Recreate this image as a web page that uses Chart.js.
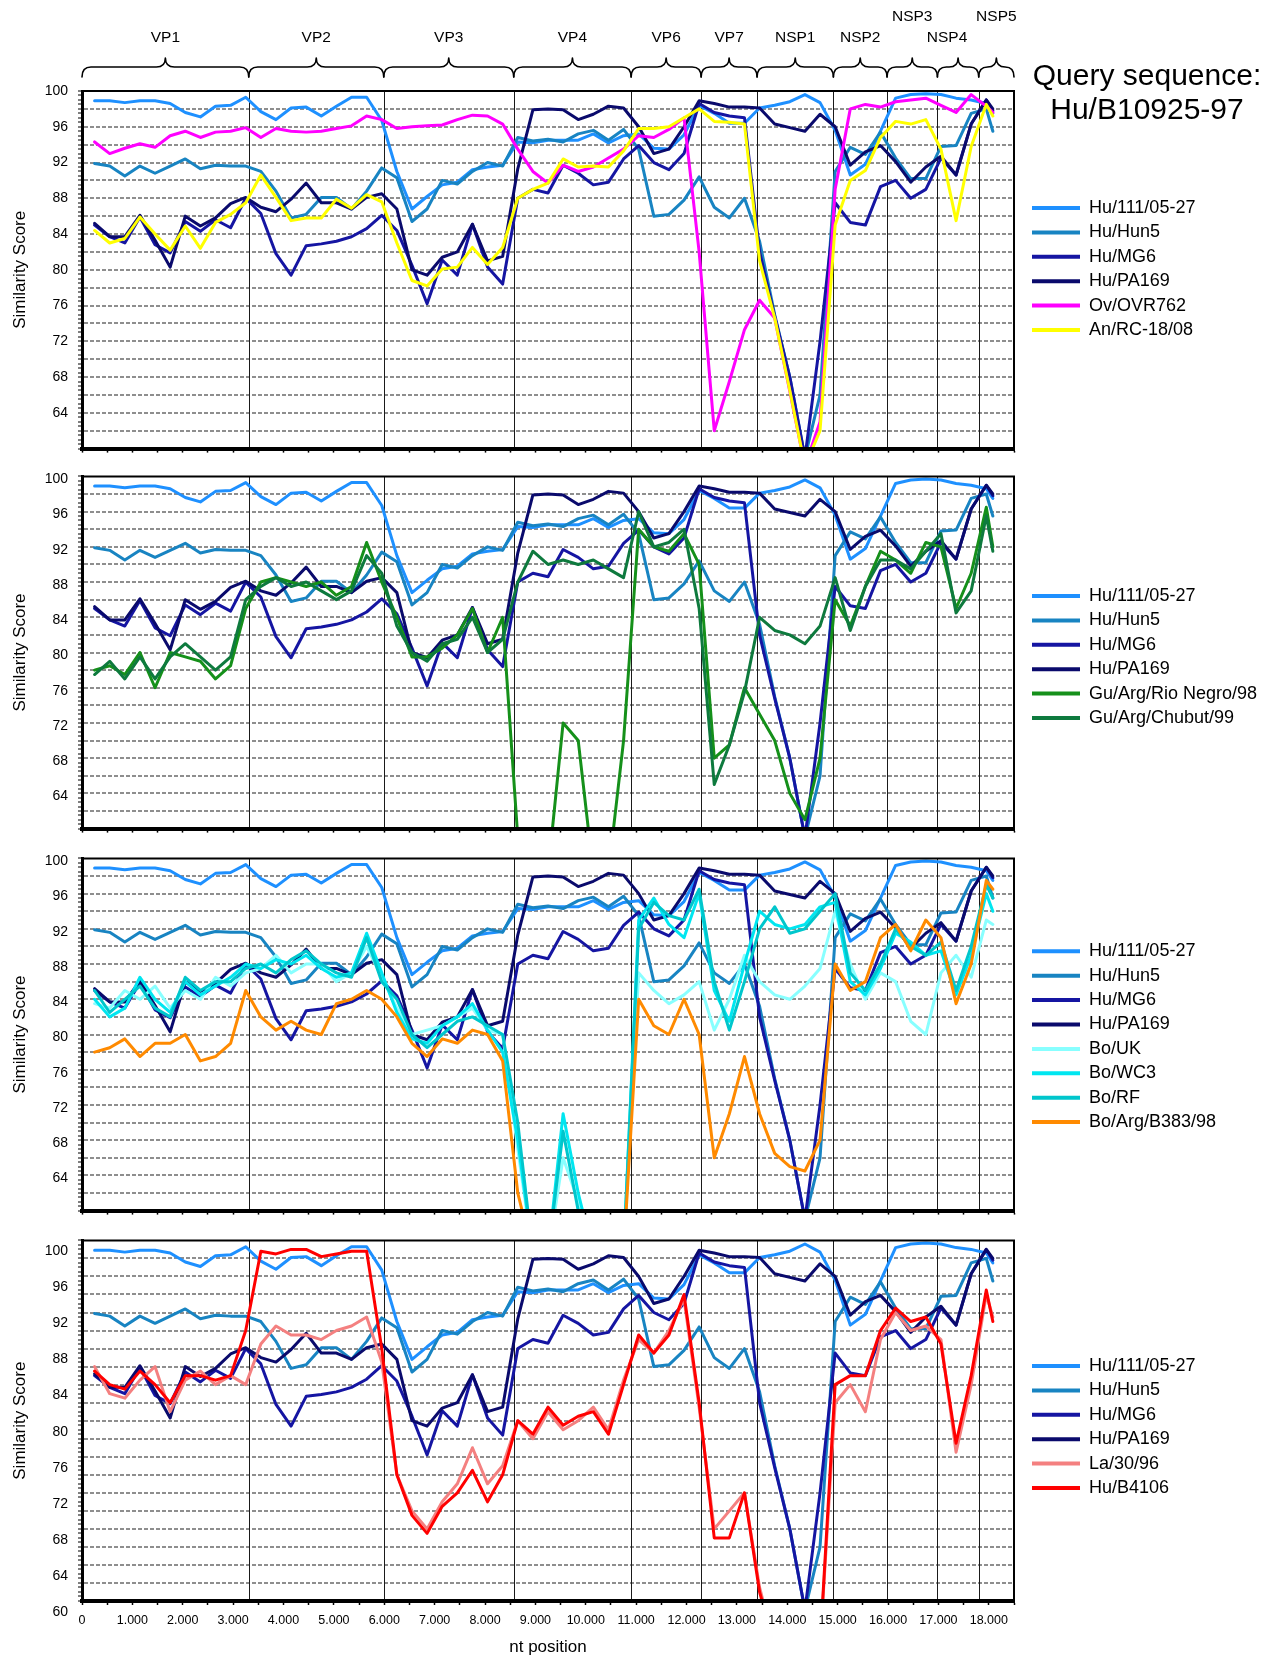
<!DOCTYPE html>
<html>
<head>
<meta charset="utf-8">
<script src="https://cdn.jsdelivr.net/npm/chart.js@4.4.1/dist/chart.umd.min.js"></script>
<style>
html,body{margin:0;padding:0;background:#fff;}
#wrap{position:relative;width:1272px;height:1659px;overflow:hidden;background:#fff;font-family:"Liberation Sans",Arial,sans-serif;}
#wrap canvas{position:absolute;left:0;}
#query{position:absolute;left:1012px;top:58px;width:270px;text-align:center;font-size:30px;line-height:34px;color:#000;}
</style>
</head>
<body>
<div id="wrap">
  <canvas id="c1" width="1272" height="467" style="top:0px"></canvas>
  <canvas id="c2" width="1272" height="389" style="top:458px"></canvas>
  <canvas id="c3" width="1272" height="389" style="top:840px"></canvas>
  <canvas id="c4" width="1272" height="437" style="top:1222px"></canvas>
  <div id="query">Query sequence:<br>Hu/B10925-97</div>
</div>
<script>
// ---------------- DATA ----------------
const positions = [250,550,850,1150,1450,1750,2050,2350,2650,2950,
  3250,3550,3850,4150,4450,4750,5050,5350,5650,5950,
  6250,6550,6850,7150,7450,7750,8050,8350,8650,8950,
  9250,9550,9850,10150,10450,10750,11050,11350,11650,11950,
  12250,12550,12850,13150,13450,13750,14050,14350,14650,14950,
  15250,15550,15850,16150,16450,16750,17050,17350,17650,17950,18080];

const geneNames = ['VP1','VP2','VP3','VP4','VP6','VP7','NSP1','NSP2','NSP3','NSP4','NSP5'];
const geneBounds = [0,3310,5990,8570,10900,12290,13400,14915,15980,16980,17800,18500];

const xMax = 18500;
const xTickStep = 500;
const yTickLabels = [100,96,92,88,84,80,76,72,68,64,60];

const hu111 = [98.9,98.9,98.7,98.9,98.9,98.6,97.6,97.1,98.3,98.4,
  99.3,97.7,96.8,98.1,98.2,97.2,98.3,99.3,99.3,96.7,
  91.0,86.8,88.2,89.5,89.8,91.2,91.5,91.7,94.3,94.2,
  94.5,94.5,94.5,95.2,94.2,95.0,95.2,93.6,93.5,95.1,
  98.4,97.5,96.4,96.4,98.1,98.4,98.8,99.6,98.7,95.6,
  90.6,91.8,95.5,99.2,99.6,99.7,99.6,99.2,99.0,98.6,97.5];

const huHun5 = [91.9,91.6,90.5,91.6,90.8,91.6,92.4,91.3,91.7,91.6,
  91.6,91.0,88.8,85.8,86.2,88.1,88.1,86.8,88.8,91.4,
  90.3,85.4,86.8,90.0,89.6,91.0,92.0,91.6,94.8,94.4,
  94.6,94.3,95.2,95.6,94.5,95.7,93.5,86.0,86.2,87.8,
  90.4,87.0,85.8,88.0,83.2,75.0,68.0,59.0,66.0,91.0,
  93.7,92.9,95.4,92.5,90.2,90.2,93.8,93.9,97.5,98.0,95.5];

const huMG6 = [85.0,83.7,83.0,85.9,82.8,81.9,85.4,84.3,85.6,84.7,
  88.0,86.3,81.8,79.4,82.7,82.9,83.2,83.7,84.6,86.1,
  84.4,80.5,76.2,81.1,79.4,85.1,80.3,78.4,88.0,89.0,
  88.6,91.7,90.8,89.5,89.8,92.4,93.9,92.0,91.2,93.0,
  98.6,97.6,97.2,97.0,82.0,74.8,68.0,59.0,72.0,87.5,
  85.3,85.0,89.3,90.0,88.0,89.0,92.5,90.6,96.3,99.0,97.8];

const huPA169 = [85.2,83.7,83.7,86.1,83.3,80.3,86.0,84.9,85.8,87.4,
  88.1,87.0,86.5,87.9,89.7,87.5,87.5,86.8,88.1,88.5,
  86.8,80.0,79.4,81.4,82.0,85.1,81.0,81.5,91.3,97.9,
  98.0,97.9,96.8,97.4,98.3,98.1,96.0,93.0,93.5,96.0,
  98.9,98.6,98.2,98.2,98.1,96.3,95.9,95.5,97.4,96.0,
  91.7,93.2,93.9,92.1,89.8,91.5,92.7,90.6,96.3,99.0,98.0];

const ovOVR762 = [94.3,93.0,93.6,94.1,93.7,95.0,95.5,94.8,95.4,95.5,
  95.9,94.8,95.8,95.5,95.4,95.5,95.8,96.1,97.2,96.8,
  95.8,96.0,96.1,96.2,96.8,97.3,97.2,96.3,93.5,91.0,
  89.7,91.7,91.0,91.5,92.5,93.5,95.0,94.8,95.7,97.0,
  82.0,62.0,67.5,73.3,76.6,74.6,66.4,58.0,63.0,89.0,
  98.0,98.5,98.2,98.8,99.0,99.2,98.4,97.6,99.6,98.3,97.6];

const anRC1808 = [84.4,83.0,83.5,85.9,84.0,82.2,84.9,82.4,85.3,86.2,
  87.5,90.6,88.1,85.5,85.8,85.8,87.9,86.9,88.4,87.6,
  83.0,78.8,78.2,80.1,80.3,82.5,80.6,82.5,88.0,89.0,
  89.7,92.4,91.5,91.6,91.5,93.3,95.8,95.8,96.0,97.0,
  98.0,96.6,96.5,96.3,81.0,74.6,66.5,58.0,62.0,85.0,
  90.0,91.1,94.8,96.6,96.3,96.8,93.5,85.5,93.8,98.5,97.2];

const guRioNegro = [78,78.5,77.5,80,76,80,79.5,79,77,78.5,
  85,88,88.5,88,87.5,88,86.5,87.5,92.5,88,
  84,79.5,79.5,80.5,82,85,80,84,59,55,
  55,72,70,55,55,70,94,92,91.5,93.5,
  90,68,69.5,76,73,70,64,61,68,86,
  83,87.5,91.5,90.5,89,92.5,92,85,89,96.5,92];

const guChubut = [77.5,79,77,79.5,77,79.5,81,79.5,78,79.5,
  86,87.5,88.5,87.5,88,87,86,87,91,89,
  83,80,79,81,81.5,84,80,81.5,88,91.5,
  90,90.5,90,90.5,89.5,88.5,96,92,92.5,94,
  85,65,69.5,75.5,84,82.5,82,81,83,88.5,
  82.5,87.5,90.5,90.5,89.5,91.5,93.5,84.5,87,95.5,91.5];

const boUK = [83.5,83,85,84,85.5,83,85,84,86.5,85.5,
  87,87.5,89,87,88,88,86,87,90,86.5,
  83,80,80.5,81,82,83,80.5,80,67,55,
  55,66,61,55,55,55,87,85,83.5,84.5,
  86,80.5,84,89,86,84.5,84,85.5,87.5,94,
  88,84,87,86,81.5,80,87,89,86.5,93,92.5];

const boWC3 = [84,82,83,86.5,84,82.5,86,84.5,85.5,86.5,
  88,87.5,88.5,88,89,87.5,86.5,87,91.5,87,
  82.5,79.5,79,81,82,83.5,80.5,78,68,55,
  55,71,62,55,55,55,93,95.5,92.5,91,
  96,85,81.5,88,94,92.5,92,92.5,94.5,95,
  86,84.5,87.5,91.5,90.5,89,89.5,84.5,89,96,94];

const boRF = [85,82.5,84,85.5,83,82,86.5,85,86,86,
  87.5,88,87,88.5,89.5,88,87,86.5,91,86,
  84,80,78.5,80,81.5,82,81,80,70,55,
  55,69,60,55,55,55,92,95,93.5,93,
  96.5,86,80.5,86,92,94.5,91.5,92,94,96,
  87,85,88,92,90,89,90.5,85,90,97,95.5];

const boB383 = [78,78.5,79.5,77.5,79,79,80,77,77.5,79,
  85,82,80.5,81.5,80.5,80,83.5,84,85,84,
  82,79,77.5,79.5,79,80.5,80,77,62,55,
  55,55,55,55,55,55,84,81,80,84,
  80,66,71,77.5,71,66.5,65,64.5,68,88,
  85,86,91,92.5,89.5,93,91,83.5,88,97.5,96.5];

const la3096 = [86,83,82.5,84.5,86,81,84.5,85.5,84,85,
  84,88.5,90.5,89.5,89.5,89,90,90.5,91.5,86.5,
  74,70,68,71,73,77,73,75,80,78,
  81,79,80,81.5,79,84.5,89,87.5,90,93.5,
  81.5,68,70,72,61.5,55,55,55,55,82,
  84,81,89,92,90,90.5,89,76.5,84,94,91.5];

const huB4106 = [85.5,84,83.5,85.5,84,82,85,85,84.5,85,
  90,98.8,98.5,99,99,98.2,98.5,98.8,98.8,88,
  74,69.5,67.5,70.5,72,74.5,71,74,80,78.5,
  81.5,79.5,80.5,81,78.5,84,89.5,87.5,89.5,94,
  82,67,67,72,61,55,55,55,55,84,
  85,85,90,92.5,91,91.5,88.5,77.5,85,94.5,91];

// ---------------- STYLE ----------------
const FONT = '"Liberation Sans", Arial, Helvetica, sans-serif';
const NARROW = '"Liberation Sans Narrow", "Arial Narrow", "Liberation Sans", sans-serif';
const humanSet = [
  ['Hu/111/05-27', hu111, '#1E90FF'],
  ['Hu/Hun5', huHun5, '#1884C2'],
  ['Hu/MG6', huMG6, '#1515A2'],
  ['Hu/PA169', huPA169, '#0A0A6C']
];
const panels = [
  {id:'c1', padTop:91, xH:10, showX:false, sixty:false, lblOff:0, legendY:192.6,
   extra:[['Ov/OVR762', ovOVR762, '#FF00FF'], ['An/RC-18/08', anRC1808, '#FFFF00']], genes:true},
  {id:'c2', padTop:12, xH:10, showX:false, sixty:false, lblOff:3, legendY:122.6,
   extra:[['Gu/Arg/Rio Negro/98', guRioNegro, '#15901A'], ['Gu/Arg/Chubut/99', guChubut, '#0E7A3E']]},
  {id:'c3', padTop:12, xH:10, showX:false, sixty:false, lblOff:3, legendY:95.9,
   extra:[['Bo/UK', boUK, '#88FFFF'], ['Bo/WC3', boWC3, '#00E6F0'], ['Bo/RF', boRF, '#00C6CC'], ['Bo/Arg/B383/98', boB383, '#FF8A00']]},
  {id:'c4', padTop:12, xH:58, showX:true, sixty:true, lblOff:11, legendY:128.6,
   extra:[['La/30/96', la3096, '#F48080'], ['Hu/B4106', huB4106, '#FF0000']]}
];
const PLOT_RIGHT = 1014;
const LEGEND_X = 1025.6;

function isMult(v, m) { const q = v / m; return Math.abs(q - Math.round(q)) < 1e-6; }

function fmtThousands(v) { return v === 0 ? '0' : Math.round(v / 1000) + '.000'; }

const framePlugin = {
  id: 'frameAndBounds',
  beforeDatasetsDraw(chart) {
    const {ctx, chartArea: a, scales: {x}} = chart;
    ctx.save();
    ctx.strokeStyle = '#1a1a1a';
    ctx.lineWidth = 1;
    for (let i = 1; i < geneBounds.length - 1; i++) {
      const px = Math.round(x.getPixelForValue(geneBounds[i])) + 0.5;
      ctx.beginPath(); ctx.moveTo(px, a.top); ctx.lineTo(px, a.bottom); ctx.stroke();
    }
    ctx.restore();
  },
  afterDatasetsDraw(chart) {
    const {ctx, chartArea: a} = chart;
    ctx.save();
    ctx.strokeStyle = '#000';
    ctx.lineWidth = 2;
    ctx.beginPath();
    ctx.moveTo(a.left, a.top); ctx.lineTo(a.right, a.top); ctx.lineTo(a.right, a.bottom);
    ctx.stroke();
    ctx.restore();
  }
};

const genePlugin = {
  id: 'geneBraces',
  afterDraw(chart) {
    const {ctx, scales: {x}} = chart;
    ctx.save();
    ctx.strokeStyle = '#000'; ctx.lineWidth = 1.6; ctx.lineJoin = 'round'; ctx.lineCap = 'round';
    ctx.fillStyle = '#000';
    ctx.font = '15.5px ' + FONT;
    ctx.textAlign = 'center'; ctx.textBaseline = 'middle';
    const raised = {NSP3: true, NSP5: true};
    const shift = {NSP4: -11};
    for (let i = 0; i < geneNames.length; i++) {
      const a = x.getPixelForValue(geneBounds[i]);
      const b = x.getPixelForValue(geneBounds[i + 1]);
      const m = (a + b) / 2;
      const r = Math.min(9, (b - a) / 4);
      const yEnd = 77, yBar = 67, yTip = 58;
      ctx.beginPath();
      ctx.moveTo(a, yEnd);
      ctx.quadraticCurveTo(a, yBar, a + r, yBar);
      ctx.lineTo(m - r, yBar);
      ctx.quadraticCurveTo(m, yBar, m, yTip);
      ctx.quadraticCurveTo(m, yBar, m + r, yBar);
      ctx.lineTo(b - r, yBar);
      ctx.quadraticCurveTo(b, yBar, b, yEnd);
      ctx.stroke();
      const name = geneNames[i];
      ctx.fillText(name, m + (shift[name] || 0), raised[name] ? 17 : 38);
    }
    ctx.restore();
  }
};

function legendPlacer(yTop) {
  return {
    id: 'legendPlacer',
    beforeInit(chart) {
      const lg = chart.legend;
      if (lg) {
        const f = lg.fit;
        lg.fit = function () { f.call(this); this.width = chart.width - PLOT_RIGHT; };
      }
    },
    afterLayout(chart) {
      const lg = chart.legend;
      if (!lg) return;
      lg.left = LEGEND_X; lg.right = chart.width; lg.width = lg.right - lg.left;
      lg.top = yTop; lg.bottom = yTop + 320; lg.height = 320;
    }
  };
}

function buildChart(p) {
  const all = humanSet.concat(p.extra);
  const n = all.length;
  const datasets = all.map((s, i) => ({
    label: s[0],
    data: positions.map((x, j) => ({x: x, y: s[1][j]})),
    borderColor: s[2],
    backgroundColor: s[2],
    borderWidth: 3,
    pointRadius: 0,
    tension: 0,
    fill: false,
    clip: 0,
    order: n - i
  }));
  const plugins = [framePlugin, legendPlacer(p.legendY)];
  if (p.genes) plugins.push(genePlugin);
  return new Chart(document.getElementById(p.id), {
    type: 'line',
    data: {datasets},
    plugins,
    options: {
      responsive: false,
      animation: false,
      devicePixelRatio: 1,
      events: [],
      layout: {padding: {top: p.padTop, left: 0, right: 0, bottom: 0}},
      elements: {line: {borderJoinStyle: 'round', borderCapStyle: 'round'}},
      plugins: {
        tooltip: {enabled: false},
        title: {display: false},
        legend: {
          display: true,
          position: 'right',
          align: 'start',
          labels: {
            boxWidth: 48, boxHeight: 4, padding: 6.4, color: '#000', textAlign: 'left',
            font: {family: FONT, size: 18},
            generateLabels: (chart) => chart.data.datasets.map((d, i) => ({
              text: d.label, fillStyle: d.borderColor, strokeStyle: d.borderColor,
              lineWidth: 0, hidden: false, datasetIndex: i
            }))
          }
        }
      },
      scales: {
        x: {
          type: 'linear', position: 'bottom', min: 0, max: xMax,
          afterFit: (s) => { s.height = p.xH; },
          ticks: {
            stepSize: xTickStep, autoSkip: false, maxRotation: 0, minRotation: 0,
            includeBounds: false, padding: 8, color: '#000',
            font: {family: NARROW, size: 12.5},
            callback: (v) => (p.showX && isMult(v, 1000) && v <= 18000) ? fmtThousands(v) : ''
          },
          grid: {display: true, drawOnChartArea: false, drawTicks: true, tickLength: 4, tickColor: '#000', tickWidth: 1.5},
          border: {display: true, color: '#000', width: 4, z: 1},
          title: {display: p.showX, text: 'nt position', color: '#000', font: {family: FONT, size: 17}, padding: {top: 0, bottom: 1}}
        },
        y: {
          type: 'linear', position: 'left', min: 60, max: 100,
          afterFit: (s) => { s.width = 82; },
          ticks: {
            stepSize: 0.5, autoSkip: false, padding: 10, labelOffset: p.lblOff, color: '#000',
            font: {family: FONT, size: 14},
            callback: (v) => {
              const r = Math.round(v * 10) / 10;
              if (!yTickLabels.includes(r)) return '';
              if (r === 60 && !p.sixty) return '';
              return String(r);
            }
          },
          grid: {
            display: true, drawOnChartArea: true, drawTicks: true, tickLength: 4, tickColor: '#000', tickWidth: 1,
            lineWidth: 2,
            color: (c) => (c.tick && isMult(c.tick.value, 2) && c.tick.value > 60 && c.tick.value < 100) ? '#8e8e8e' : 'rgba(0,0,0,0)'
          },
          border: {display: true, color: '#000', width: 3, dash: [4, 2], z: 1},
          title: {display: true, text: 'Similarity Score', color: '#000', font: {family: FONT, size: 17}, padding: {top: 10, bottom: 0}}
        }
      }
    }
  });
}

panels.forEach(buildChart);
</script>
</body>
</html>
